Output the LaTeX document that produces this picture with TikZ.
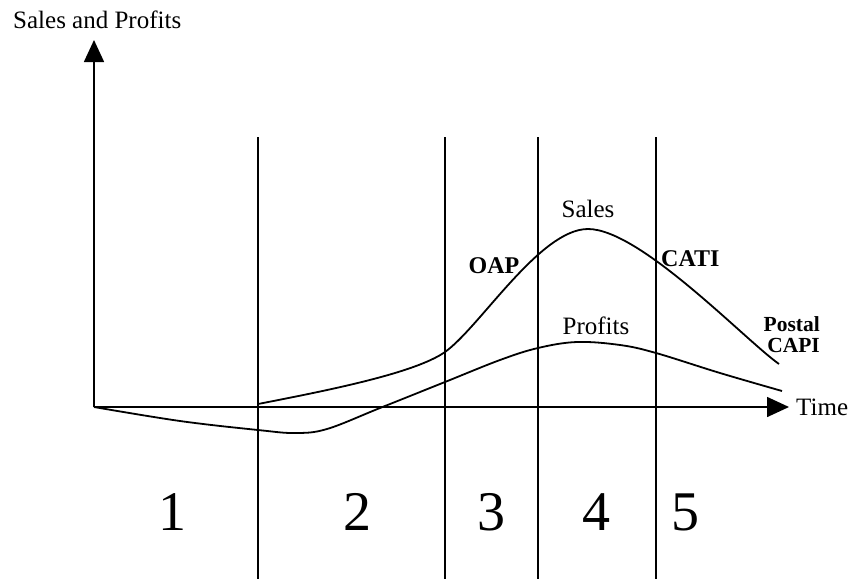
\documentclass[tikz,border=0pt]{standalone}
\usepackage{fontspec}
\setmainfont{Liberation Serif}
\usetikzlibrary{arrows.meta}
\tikzset{
  axis/.style={line width=1.6pt, -{Triangle[length=22pt,width=20pt]}},
  vline/.style={line width=1.6pt},
  curve/.style={line width=1.8pt},
  smoothcurve/.style={line width=1.8pt, smooth, tension=0.6},
  lbl/.style={font=\fontsize{25}{27}\selectfont, inner sep=0pt},
  blbl/.style={font=\fontsize{24}{24}\selectfont\bfseries, inner sep=0pt},
  sblbl/.style={font=\fontsize{21.5}{22}\selectfont\bfseries, inner sep=0pt},
  num/.style={font=\fontsize{56}{58}\selectfont, inner sep=0pt},
}
\begin{document}
\begin{tikzpicture}[x=1pt,y=-1pt]
\useasboundingbox (0,0) rectangle (851,579);
\coordinate (O) at (94,407);
\coordinate (Ytop) at (94,40);
\coordinate (Xend) at (789,407);
\draw[axis] (O) -- (Ytop);
\draw[axis] (O) -- (Xend);
\node[lbl, anchor=west] (ylab) at (13,20) {Sales and Profits};
\node[lbl, anchor=west] (xlab) at (796,407) {Time};
\foreach \x/\n in {258/a,445/b,538/c,656/d}{
  \coordinate (t\n) at (\x,137);
  \coordinate (b\n) at (\x,579);
  \draw[vline] (t\n) -- (b\n);
}
\coordinate (s0) at (258,404);
\coordinate (s1) at (445,352);
\coordinate (s2) at (588,229);
\coordinate (s3) at (779,364);
\draw[curve] (s0) .. controls (330,390) and (415,373) .. (s1)
  .. controls (480,327) and (540,229) .. (s2)
  .. controls (640,229) and (745,340) .. (s3);
\draw[smoothcurve] plot coordinates {(94,407) (180,421) (258,430) (295,433) (327,429) (380,408) (445,382) (500,360) (538,348) (577,342) (620,345) (656,353) (720,373) (782,391)};
\node[lbl] (sales) at (588,209) {Sales};
\node[lbl] (profits) at (596,326) {Profits};
\node[blbl] (oap) at (494,266) {OAP};
\node[blbl, anchor=west] (cati) at (661,259) {CATI};
\node[sblbl, anchor=east] (postal) at (820,324) {Postal};
\node[sblbl, anchor=east] (capi) at (820,345) {CAPI};
\node[num] (n1) at (172,512) {1};
\node[num] (n2) at (357,512) {2};
\node[num] (n3) at (491,512) {3};
\node[num] (n4) at (596,512) {4};
\node[num] (n5) at (685,512) {5};
\end{tikzpicture}
\end{document}
